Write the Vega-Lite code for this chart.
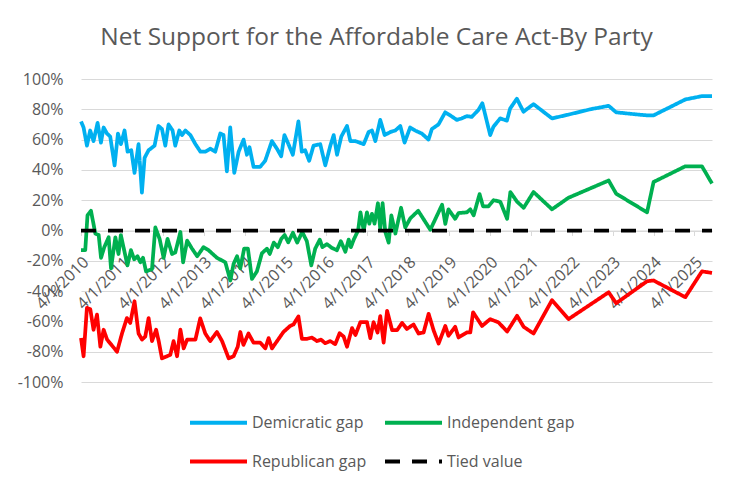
{
  "$schema": "https://vega.github.io/schema/vega-lite/v6.json",
  "width": 631,
  "height": 303,
  "autosize": {"type": "none"},
  "padding": {"left": 81, "top": 79, "right": 40, "bottom": 103},
  "background": "white",
  "title": {
    "text": "Net Support for the Affordable Care Act-By Party",
    "fontSize": 24.5,
    "fontWeight": "normal",
    "color": "#595959",
    "font": "Open Sans",
    "anchor": "middle",
    "dx": -20,
    "offset": 21
  },
  "config": {
    "view": {"stroke": null},
    "font": "Open Sans",
    "legend": {
      "orient": "none",
      "legendX": 107,
      "legendY": 313,
      "columns": 2,
      "direction": "horizontal",
      "symbolType": "stroke",
      "symbolSize": 3249,
      "symbolStrokeWidth": 4,
      "labelOffset": 3,
      "columnPadding": 10,
      "rowPadding": -29,
      "labelFontSize": 16,
      "labelColor": "#595959",
      "labelLimit": 300
    }
  },
  "data": {
    "values": [
      {"party": "Demicratic gap", "date": "2010-04-01", "value": 72},
      {"party": "Demicratic gap", "date": "2010-04-24", "value": 68},
      {"party": "Demicratic gap", "date": "2010-05-24", "value": 56},
      {"party": "Demicratic gap", "date": "2010-06-22", "value": 66},
      {"party": "Demicratic gap", "date": "2010-07-22", "value": 59},
      {"party": "Demicratic gap", "date": "2010-08-27", "value": 71},
      {"party": "Demicratic gap", "date": "2010-09-26", "value": 58},
      {"party": "Demicratic gap", "date": "2010-10-20", "value": 68},
      {"party": "Demicratic gap", "date": "2010-11-19", "value": 64},
      {"party": "Demicratic gap", "date": "2010-12-18", "value": 62},
      {"party": "Demicratic gap", "date": "2011-01-26", "value": 43},
      {"party": "Demicratic gap", "date": "2011-02-25", "value": 64},
      {"party": "Demicratic gap", "date": "2011-03-24", "value": 57},
      {"party": "Demicratic gap", "date": "2011-04-25", "value": 66},
      {"party": "Demicratic gap", "date": "2011-05-22", "value": 52},
      {"party": "Demicratic gap", "date": "2011-06-24", "value": 53},
      {"party": "Demicratic gap", "date": "2011-07-23", "value": 38},
      {"party": "Demicratic gap", "date": "2011-08-28", "value": 57},
      {"party": "Demicratic gap", "date": "2011-09-27", "value": 25},
      {"party": "Demicratic gap", "date": "2011-10-21", "value": 48},
      {"party": "Demicratic gap", "date": "2011-11-26", "value": 53},
      {"party": "Demicratic gap", "date": "2012-01-18", "value": 56},
      {"party": "Demicratic gap", "date": "2012-02-22", "value": 69},
      {"party": "Demicratic gap", "date": "2012-03-24", "value": 67},
      {"party": "Demicratic gap", "date": "2012-04-23", "value": 56},
      {"party": "Demicratic gap", "date": "2012-05-22", "value": 70},
      {"party": "Demicratic gap", "date": "2012-06-27", "value": 66},
      {"party": "Demicratic gap", "date": "2012-07-21", "value": 56},
      {"party": "Demicratic gap", "date": "2012-08-26", "value": 66},
      {"party": "Demicratic gap", "date": "2012-09-19", "value": 63},
      {"party": "Demicratic gap", "date": "2012-10-19", "value": 66},
      {"party": "Demicratic gap", "date": "2012-12-03", "value": 63},
      {"party": "Demicratic gap", "date": "2013-01-17", "value": 57},
      {"party": "Demicratic gap", "date": "2013-03-03", "value": 52},
      {"party": "Demicratic gap", "date": "2013-04-15", "value": 52},
      {"party": "Demicratic gap", "date": "2013-05-30", "value": 54},
      {"party": "Demicratic gap", "date": "2013-07-13", "value": 52},
      {"party": "Demicratic gap", "date": "2013-08-27", "value": 64},
      {"party": "Demicratic gap", "date": "2013-09-25", "value": 63},
      {"party": "Demicratic gap", "date": "2013-10-25", "value": 39},
      {"party": "Demicratic gap", "date": "2013-11-24", "value": 68},
      {"party": "Demicratic gap", "date": "2013-12-30", "value": 38},
      {"party": "Demicratic gap", "date": "2014-02-07", "value": 52},
      {"party": "Demicratic gap", "date": "2014-03-23", "value": 60},
      {"party": "Demicratic gap", "date": "2014-04-22", "value": 50},
      {"party": "Demicratic gap", "date": "2014-05-15", "value": 55},
      {"party": "Demicratic gap", "date": "2014-06-20", "value": 42},
      {"party": "Demicratic gap", "date": "2014-08-18", "value": 42},
      {"party": "Demicratic gap", "date": "2014-10-02", "value": 46},
      {"party": "Demicratic gap", "date": "2014-12-01", "value": 59},
      {"party": "Demicratic gap", "date": "2015-01-15", "value": 54},
      {"party": "Demicratic gap", "date": "2015-02-22", "value": 49},
      {"party": "Demicratic gap", "date": "2015-03-23", "value": 63},
      {"party": "Demicratic gap", "date": "2015-04-28", "value": 57},
      {"party": "Demicratic gap", "date": "2015-06-06", "value": 50},
      {"party": "Demicratic gap", "date": "2015-07-26", "value": 72},
      {"party": "Demicratic gap", "date": "2015-08-25", "value": 52},
      {"party": "Demicratic gap", "date": "2015-09-24", "value": 53},
      {"party": "Demicratic gap", "date": "2015-10-30", "value": 46},
      {"party": "Demicratic gap", "date": "2015-12-08", "value": 56},
      {"party": "Demicratic gap", "date": "2016-02-06", "value": 57},
      {"party": "Demicratic gap", "date": "2016-03-22", "value": 43},
      {"party": "Demicratic gap", "date": "2016-05-06", "value": 56},
      {"party": "Demicratic gap", "date": "2016-06-05", "value": 63},
      {"party": "Demicratic gap", "date": "2016-07-05", "value": 50},
      {"party": "Demicratic gap", "date": "2016-08-12", "value": 62},
      {"party": "Demicratic gap", "date": "2016-10-02", "value": 69},
      {"party": "Demicratic gap", "date": "2016-11-01", "value": 59},
      {"party": "Demicratic gap", "date": "2016-12-15", "value": 59},
      {"party": "Demicratic gap", "date": "2017-02-28", "value": 57},
      {"party": "Demicratic gap", "date": "2017-04-13", "value": 65},
      {"party": "Demicratic gap", "date": "2017-05-13", "value": 66},
      {"party": "Demicratic gap", "date": "2017-06-12", "value": 59},
      {"party": "Demicratic gap", "date": "2017-07-26", "value": 73},
      {"party": "Demicratic gap", "date": "2017-09-03", "value": 63},
      {"party": "Demicratic gap", "date": "2017-10-24", "value": 65},
      {"party": "Demicratic gap", "date": "2017-12-07", "value": 66},
      {"party": "Demicratic gap", "date": "2018-01-21", "value": 69},
      {"party": "Demicratic gap", "date": "2018-02-28", "value": 58},
      {"party": "Demicratic gap", "date": "2018-04-19", "value": 68},
      {"party": "Demicratic gap", "date": "2018-06-03", "value": 66},
      {"party": "Demicratic gap", "date": "2018-08-01", "value": 64},
      {"party": "Demicratic gap", "date": "2018-09-30", "value": 60},
      {"party": "Demicratic gap", "date": "2018-10-30", "value": 67},
      {"party": "Demicratic gap", "date": "2018-12-28", "value": 70},
      {"party": "Demicratic gap", "date": "2019-02-26", "value": 78},
      {"party": "Demicratic gap", "date": "2019-04-11", "value": 76},
      {"party": "Demicratic gap", "date": "2019-06-10", "value": 73},
      {"party": "Demicratic gap", "date": "2019-07-24", "value": 74},
      {"party": "Demicratic gap", "date": "2019-09-07", "value": 75.5},
      {"party": "Demicratic gap", "date": "2019-10-21", "value": 75},
      {"party": "Demicratic gap", "date": "2019-12-19", "value": 79.5},
      {"party": "Demicratic gap", "date": "2020-01-24", "value": 84},
      {"party": "Demicratic gap", "date": "2020-04-03", "value": 63},
      {"party": "Demicratic gap", "date": "2020-05-02", "value": 68.5},
      {"party": "Demicratic gap", "date": "2020-07-01", "value": 74},
      {"party": "Demicratic gap", "date": "2020-08-30", "value": 72.5},
      {"party": "Demicratic gap", "date": "2020-09-28", "value": 80.5},
      {"party": "Demicratic gap", "date": "2020-11-27", "value": 87},
      {"party": "Demicratic gap", "date": "2021-01-25", "value": 78.4},
      {"party": "Demicratic gap", "date": "2021-04-25", "value": 83.4},
      {"party": "Demicratic gap", "date": "2021-10-07", "value": 74},
      {"party": "Demicratic gap", "date": "2022-03-03", "value": 76.5},
      {"party": "Demicratic gap", "date": "2022-09-13", "value": 80},
      {"party": "Demicratic gap", "date": "2023-02-25", "value": 82.3},
      {"party": "Demicratic gap", "date": "2023-05-03", "value": 78},
      {"party": "Demicratic gap", "date": "2023-11-04", "value": 76.6},
      {"party": "Demicratic gap", "date": "2024-02-03", "value": 76},
      {"party": "Demicratic gap", "date": "2024-04-01", "value": 76},
      {"party": "Demicratic gap", "date": "2025-01-10", "value": 86.5},
      {"party": "Demicratic gap", "date": "2025-06-07", "value": 88.7},
      {"party": "Demicratic gap", "date": "2025-09-05", "value": 88.7},

      {"party": "Independent gap", "date": "2010-04-01", "value": -13},
      {"party": "Independent gap", "date": "2010-05-09", "value": -13},
      {"party": "Independent gap", "date": "2010-05-29", "value": 10},
      {"party": "Independent gap", "date": "2010-06-29", "value": 13},
      {"party": "Independent gap", "date": "2010-08-07", "value": -2},
      {"party": "Independent gap", "date": "2010-09-06", "value": -3},
      {"party": "Independent gap", "date": "2010-09-27", "value": -18},
      {"party": "Independent gap", "date": "2010-10-26", "value": -11},
      {"party": "Independent gap", "date": "2010-12-04", "value": -4.5},
      {"party": "Independent gap", "date": "2010-12-25", "value": -25},
      {"party": "Independent gap", "date": "2011-02-02", "value": -4.5},
      {"party": "Independent gap", "date": "2011-03-02", "value": -15.5},
      {"party": "Independent gap", "date": "2011-03-23", "value": -3},
      {"party": "Independent gap", "date": "2011-05-21", "value": -23},
      {"party": "Independent gap", "date": "2011-06-21", "value": -13},
      {"party": "Independent gap", "date": "2011-07-20", "value": -19},
      {"party": "Independent gap", "date": "2011-08-19", "value": -17},
      {"party": "Independent gap", "date": "2011-09-13", "value": -21},
      {"party": "Independent gap", "date": "2011-10-07", "value": -18},
      {"party": "Independent gap", "date": "2011-11-03", "value": -27},
      {"party": "Independent gap", "date": "2011-12-26", "value": -25.5},
      {"party": "Independent gap", "date": "2012-01-25", "value": 2},
      {"party": "Independent gap", "date": "2012-03-03", "value": -5.5},
      {"party": "Independent gap", "date": "2012-04-08", "value": -18},
      {"party": "Independent gap", "date": "2012-05-13", "value": -5.5},
      {"party": "Independent gap", "date": "2012-06-22", "value": -15.5},
      {"party": "Independent gap", "date": "2012-07-21", "value": -14.5},
      {"party": "Independent gap", "date": "2012-09-05", "value": -1},
      {"party": "Independent gap", "date": "2012-09-29", "value": -21},
      {"party": "Independent gap", "date": "2012-11-04", "value": -6.7},
      {"party": "Independent gap", "date": "2012-12-18", "value": -12},
      {"party": "Independent gap", "date": "2013-02-02", "value": -17},
      {"party": "Independent gap", "date": "2013-03-30", "value": -11},
      {"party": "Independent gap", "date": "2013-05-14", "value": -13},
      {"party": "Independent gap", "date": "2013-07-28", "value": -18},
      {"party": "Independent gap", "date": "2013-10-11", "value": -21},
      {"party": "Independent gap", "date": "2013-11-25", "value": -33},
      {"party": "Independent gap", "date": "2013-12-24", "value": -22},
      {"party": "Independent gap", "date": "2014-01-24", "value": -17},
      {"party": "Independent gap", "date": "2014-02-22", "value": -25},
      {"party": "Independent gap", "date": "2014-03-28", "value": -12},
      {"party": "Independent gap", "date": "2014-05-01", "value": -12},
      {"party": "Independent gap", "date": "2014-06-06", "value": -32},
      {"party": "Independent gap", "date": "2014-07-20", "value": -27},
      {"party": "Independent gap", "date": "2014-09-03", "value": -15},
      {"party": "Independent gap", "date": "2014-10-18", "value": -12},
      {"party": "Independent gap", "date": "2014-11-12", "value": -15.5},
      {"party": "Independent gap", "date": "2014-12-18", "value": -8},
      {"party": "Independent gap", "date": "2015-01-23", "value": -11},
      {"party": "Independent gap", "date": "2015-02-23", "value": -5.5},
      {"party": "Independent gap", "date": "2015-03-25", "value": -3},
      {"party": "Independent gap", "date": "2015-04-26", "value": -7.8},
      {"party": "Independent gap", "date": "2015-06-07", "value": -1.5},
      {"party": "Independent gap", "date": "2015-07-15", "value": -8},
      {"party": "Independent gap", "date": "2015-08-29", "value": -1},
      {"party": "Independent gap", "date": "2015-10-09", "value": -7},
      {"party": "Independent gap", "date": "2015-11-18", "value": -23},
      {"party": "Independent gap", "date": "2015-12-23", "value": -12},
      {"party": "Independent gap", "date": "2016-02-02", "value": -6},
      {"party": "Independent gap", "date": "2016-02-25", "value": -11},
      {"party": "Independent gap", "date": "2016-04-06", "value": -9},
      {"party": "Independent gap", "date": "2016-05-20", "value": -11.5},
      {"party": "Independent gap", "date": "2016-07-04", "value": -13},
      {"party": "Independent gap", "date": "2016-08-08", "value": -7},
      {"party": "Independent gap", "date": "2016-09-17", "value": -14},
      {"party": "Independent gap", "date": "2016-10-17", "value": -6},
      {"party": "Independent gap", "date": "2016-11-06", "value": -11},
      {"party": "Independent gap", "date": "2016-12-01", "value": -6},
      {"party": "Independent gap", "date": "2017-01-09", "value": 0},
      {"party": "Independent gap", "date": "2017-01-30", "value": 12},
      {"party": "Independent gap", "date": "2017-02-28", "value": 0},
      {"party": "Independent gap", "date": "2017-03-29", "value": 12},
      {"party": "Independent gap", "date": "2017-04-19", "value": 4.5},
      {"party": "Independent gap", "date": "2017-05-13", "value": 11},
      {"party": "Independent gap", "date": "2017-06-05", "value": 4.5},
      {"party": "Independent gap", "date": "2017-07-05", "value": 18},
      {"party": "Independent gap", "date": "2017-07-26", "value": 1},
      {"party": "Independent gap", "date": "2017-08-16", "value": 18},
      {"party": "Independent gap", "date": "2017-09-09", "value": -1},
      {"party": "Independent gap", "date": "2017-10-09", "value": -8},
      {"party": "Independent gap", "date": "2017-11-02", "value": 10},
      {"party": "Independent gap", "date": "2017-12-08", "value": -2},
      {"party": "Independent gap", "date": "2018-01-28", "value": 15},
      {"party": "Independent gap", "date": "2018-03-06", "value": 2},
      {"party": "Independent gap", "date": "2018-04-20", "value": 8},
      {"party": "Independent gap", "date": "2018-06-30", "value": 13},
      {"party": "Independent gap", "date": "2018-10-16", "value": 0.5},
      {"party": "Independent gap", "date": "2019-01-29", "value": 17},
      {"party": "Independent gap", "date": "2019-02-27", "value": 4.4},
      {"party": "Independent gap", "date": "2019-03-27", "value": 14},
      {"party": "Independent gap", "date": "2019-05-26", "value": 7.7},
      {"party": "Independent gap", "date": "2019-06-25", "value": 11.5},
      {"party": "Independent gap", "date": "2019-09-08", "value": 12},
      {"party": "Independent gap", "date": "2019-10-08", "value": 14},
      {"party": "Independent gap", "date": "2019-11-07", "value": 10},
      {"party": "Independent gap", "date": "2019-12-30", "value": 24},
      {"party": "Independent gap", "date": "2020-01-30", "value": 16},
      {"party": "Independent gap", "date": "2020-03-19", "value": 16},
      {"party": "Independent gap", "date": "2020-05-03", "value": 20},
      {"party": "Independent gap", "date": "2020-07-02", "value": 19},
      {"party": "Independent gap", "date": "2020-09-01", "value": 7.7},
      {"party": "Independent gap", "date": "2020-09-30", "value": 25.4},
      {"party": "Independent gap", "date": "2020-11-29", "value": 19},
      {"party": "Independent gap", "date": "2021-01-27", "value": 15},
      {"party": "Independent gap", "date": "2021-04-25", "value": 25.4},
      {"party": "Independent gap", "date": "2021-10-07", "value": 14},
      {"party": "Independent gap", "date": "2022-03-03", "value": 21.6},
      {"party": "Independent gap", "date": "2023-02-25", "value": 33},
      {"party": "Independent gap", "date": "2023-05-03", "value": 24.3},
      {"party": "Independent gap", "date": "2024-02-03", "value": 12},
      {"party": "Independent gap", "date": "2024-04-01", "value": 32},
      {"party": "Independent gap", "date": "2025-01-10", "value": 42.4},
      {"party": "Independent gap", "date": "2025-06-07", "value": 42.4},
      {"party": "Independent gap", "date": "2025-09-05", "value": 31},

      {"party": "Republican gap", "date": "2010-04-01", "value": -71},
      {"party": "Republican gap", "date": "2010-04-24", "value": -83},
      {"party": "Republican gap", "date": "2010-05-24", "value": -51},
      {"party": "Republican gap", "date": "2010-06-23", "value": -52},
      {"party": "Republican gap", "date": "2010-07-22", "value": -65.5},
      {"party": "Republican gap", "date": "2010-08-22", "value": -55.5},
      {"party": "Republican gap", "date": "2010-09-21", "value": -76.7},
      {"party": "Republican gap", "date": "2010-10-20", "value": -65.5},
      {"party": "Republican gap", "date": "2010-11-20", "value": -72},
      {"party": "Republican gap", "date": "2011-02-17", "value": -80},
      {"party": "Republican gap", "date": "2011-04-02", "value": -68},
      {"party": "Republican gap", "date": "2011-05-16", "value": -57.8},
      {"party": "Republican gap", "date": "2011-06-15", "value": -61},
      {"party": "Republican gap", "date": "2011-07-23", "value": -46.7},
      {"party": "Republican gap", "date": "2011-08-28", "value": -68},
      {"party": "Republican gap", "date": "2011-09-28", "value": -72},
      {"party": "Republican gap", "date": "2011-10-27", "value": -70},
      {"party": "Republican gap", "date": "2011-11-26", "value": -57.8},
      {"party": "Republican gap", "date": "2011-12-26", "value": -73},
      {"party": "Republican gap", "date": "2012-02-01", "value": -65.5},
      {"party": "Republican gap", "date": "2012-02-24", "value": -73},
      {"party": "Republican gap", "date": "2012-03-24", "value": -84.4},
      {"party": "Republican gap", "date": "2012-05-08", "value": -83},
      {"party": "Republican gap", "date": "2012-06-07", "value": -82},
      {"party": "Republican gap", "date": "2012-07-06", "value": -73},
      {"party": "Republican gap", "date": "2012-08-06", "value": -83},
      {"party": "Republican gap", "date": "2012-09-05", "value": -65.5},
      {"party": "Republican gap", "date": "2012-10-04", "value": -77.8},
      {"party": "Republican gap", "date": "2012-11-04", "value": -72},
      {"party": "Republican gap", "date": "2013-01-17", "value": -72},
      {"party": "Republican gap", "date": "2013-03-01", "value": -58},
      {"party": "Republican gap", "date": "2013-04-15", "value": -68},
      {"party": "Republican gap", "date": "2013-05-29", "value": -73},
      {"party": "Republican gap", "date": "2013-07-28", "value": -67},
      {"party": "Republican gap", "date": "2013-09-12", "value": -73},
      {"party": "Republican gap", "date": "2013-11-10", "value": -84.4},
      {"party": "Republican gap", "date": "2013-12-24", "value": -83},
      {"party": "Republican gap", "date": "2014-01-30", "value": -76.7},
      {"party": "Republican gap", "date": "2014-02-22", "value": -67},
      {"party": "Republican gap", "date": "2014-03-22", "value": -75.5},
      {"party": "Republican gap", "date": "2014-05-06", "value": -68},
      {"party": "Republican gap", "date": "2014-06-20", "value": -74},
      {"party": "Republican gap", "date": "2014-08-19", "value": -74},
      {"party": "Republican gap", "date": "2014-10-03", "value": -77.8},
      {"party": "Republican gap", "date": "2014-11-02", "value": -71},
      {"party": "Republican gap", "date": "2014-12-02", "value": -77.8},
      {"party": "Republican gap", "date": "2015-03-14", "value": -67},
      {"party": "Republican gap", "date": "2015-05-13", "value": -63},
      {"party": "Republican gap", "date": "2015-06-12", "value": -62},
      {"party": "Republican gap", "date": "2015-07-26", "value": -56.7},
      {"party": "Republican gap", "date": "2015-08-26", "value": -71.5},
      {"party": "Republican gap", "date": "2015-10-10", "value": -71.5},
      {"party": "Republican gap", "date": "2015-11-24", "value": -70.7},
      {"party": "Republican gap", "date": "2016-01-08", "value": -73},
      {"party": "Republican gap", "date": "2016-02-13", "value": -72},
      {"party": "Republican gap", "date": "2016-03-21", "value": -74.4},
      {"party": "Republican gap", "date": "2016-05-05", "value": -73},
      {"party": "Republican gap", "date": "2016-06-19", "value": -75},
      {"party": "Republican gap", "date": "2016-07-28", "value": -67.8},
      {"party": "Republican gap", "date": "2016-09-02", "value": -70},
      {"party": "Republican gap", "date": "2016-10-02", "value": -76.7},
      {"party": "Republican gap", "date": "2016-11-16", "value": -64.4},
      {"party": "Republican gap", "date": "2016-12-16", "value": -69},
      {"party": "Republican gap", "date": "2017-01-30", "value": -60.4},
      {"party": "Republican gap", "date": "2017-03-29", "value": -60.4},
      {"party": "Republican gap", "date": "2017-04-28", "value": -71},
      {"party": "Republican gap", "date": "2017-05-27", "value": -60.5},
      {"party": "Republican gap", "date": "2017-07-02", "value": -67.3},
      {"party": "Republican gap", "date": "2017-07-26", "value": -56.5},
      {"party": "Republican gap", "date": "2017-08-25", "value": -74},
      {"party": "Republican gap", "date": "2017-09-25", "value": -53},
      {"party": "Republican gap", "date": "2017-11-09", "value": -65.8},
      {"party": "Republican gap", "date": "2017-12-23", "value": -65.8},
      {"party": "Republican gap", "date": "2018-02-06", "value": -61},
      {"party": "Republican gap", "date": "2018-03-21", "value": -65},
      {"party": "Republican gap", "date": "2018-05-19", "value": -62},
      {"party": "Republican gap", "date": "2018-07-03", "value": -68},
      {"party": "Republican gap", "date": "2018-08-17", "value": -67.3},
      {"party": "Republican gap", "date": "2018-10-01", "value": -55},
      {"party": "Republican gap", "date": "2018-11-15", "value": -66},
      {"party": "Republican gap", "date": "2018-12-29", "value": -74.6},
      {"party": "Republican gap", "date": "2019-02-27", "value": -63},
      {"party": "Republican gap", "date": "2019-03-27", "value": -69.5},
      {"party": "Republican gap", "date": "2019-05-26", "value": -63.6},
      {"party": "Republican gap", "date": "2019-06-25", "value": -70.6},
      {"party": "Republican gap", "date": "2019-09-08", "value": -67.3},
      {"party": "Republican gap", "date": "2019-10-08", "value": -67.3},
      {"party": "Republican gap", "date": "2019-11-02", "value": -54},
      {"party": "Republican gap", "date": "2020-01-21", "value": -63},
      {"party": "Republican gap", "date": "2020-04-03", "value": -58.5},
      {"party": "Republican gap", "date": "2020-06-17", "value": -60.7},
      {"party": "Republican gap", "date": "2020-09-01", "value": -66.7},
      {"party": "Republican gap", "date": "2020-11-29", "value": -56.3},
      {"party": "Republican gap", "date": "2021-01-27", "value": -63.6},
      {"party": "Republican gap", "date": "2021-04-25", "value": -68},
      {"party": "Republican gap", "date": "2021-10-07", "value": -46},
      {"party": "Republican gap", "date": "2022-03-03", "value": -58.5},
      {"party": "Republican gap", "date": "2023-02-25", "value": -40.8},
      {"party": "Republican gap", "date": "2023-05-03", "value": -48},
      {"party": "Republican gap", "date": "2024-02-03", "value": -33.5},
      {"party": "Republican gap", "date": "2024-04-01", "value": -33},
      {"party": "Republican gap", "date": "2025-01-10", "value": -44},
      {"party": "Republican gap", "date": "2025-06-07", "value": -27},
      {"party": "Republican gap", "date": "2025-09-05", "value": -28},

      {"party": "Tied value", "date": "2010-04-01", "value": 0},
      {"party": "Tied value", "date": "2025-09-05", "value": 0}
    ]
  },
  "mark": {"type": "line", "strokeWidth": 3.75, "strokeJoin": "round", "strokeCap": "butt"},
  "encoding": {
    "x": {
      "field": "date",
      "type": "temporal",
      "scale": {"domain": [{"year": 2010, "month": 4, "date": 1}, {"year": 2025, "month": 9, "date": 5}]},
      "axis": {
        "orient": "bottom",
        "offset": -151.5,
        "title": null,
        "values": [
          {"year": 2010, "month": 4, "date": 1},
          {"year": 2011, "month": 4, "date": 1},
          {"year": 2012, "month": 4, "date": 1},
          {"year": 2013, "month": 4, "date": 1},
          {"year": 2014, "month": 4, "date": 1},
          {"year": 2015, "month": 4, "date": 1},
          {"year": 2016, "month": 4, "date": 1},
          {"year": 2017, "month": 4, "date": 1},
          {"year": 2018, "month": 4, "date": 1},
          {"year": 2019, "month": 4, "date": 1},
          {"year": 2020, "month": 4, "date": 1},
          {"year": 2021, "month": 4, "date": 1},
          {"year": 2022, "month": 4, "date": 1},
          {"year": 2023, "month": 4, "date": 1},
          {"year": 2024, "month": 4, "date": 1},
          {"year": 2025, "month": 4, "date": 1}
        ],
        "format": "%-m/%-d/%Y",
        "labelAngle": -45,
        "labelFlush": false,
        "labelOverlap": false,
        "labelBound": false,
        "grid": false,
        "domainColor": "#d9d9d9",
        "domainWidth": 1,
        "tickColor": "#d9d9d9",
        "tickSize": 5,
        "labelColor": "#595959",
        "labelFontSize": 16,
        "labelPadding": 18,
        "labelOffset": -1
      }
    },
    "y": {
      "field": "value",
      "type": "quantitative",
      "scale": {"domain": [-100, 100], "nice": false},
      "axis": {
        "title": null,
        "values": [-100, -80, -60, -40, -20, 0, 20, 40, 60, 80, 100],
        "labelExpr": "datum.value + '%'",
        "domain": false,
        "ticks": false,
        "grid": true,
        "gridColor": "#d9d9d9",
        "gridWidth": 1.2,
        "labelColor": "#595959",
        "labelFontSize": 16,
        "labelPadding": 18
      }
    },
    "color": {
      "field": "party",
      "type": "nominal",
      "scale": {
        "domain": ["Demicratic gap", "Independent gap", "Republican gap", "Tied value"],
        "range": ["#00B0F0", "#00B050", "#FF0000", "#000000"]
      },
      "legend": {"title": null}
    },
    "strokeDash": {
      "field": "party",
      "type": "nominal",
      "scale": {
        "domain": ["Demicratic gap", "Independent gap", "Republican gap", "Tied value"],
        "range": [[1, 0], [1, 0], [1, 0], [15, 12]]
      },
      "legend": {"title": null}
    }
  }
}
